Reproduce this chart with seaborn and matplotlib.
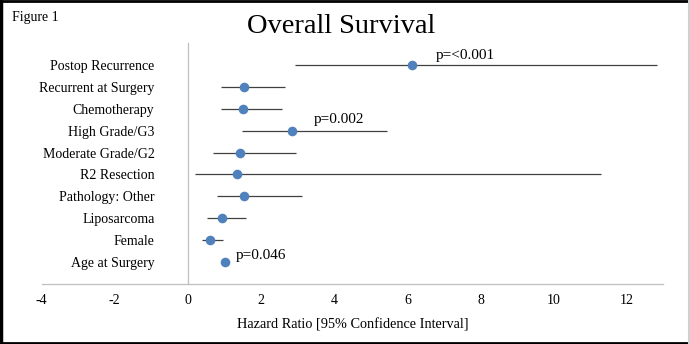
import numpy as np
import pandas as pd
import matplotlib
matplotlib.use("Agg")
import matplotlib.pyplot as plt
import seaborn as sns
from matplotlib.lines import Line2D

# ---- data ----
categories = ["Postop Recurrence", "Recurrent at Surgery", "Chemotherapy",
              "High Grade/G3", "Moderate Grade/G2", "R2 Resection",
              "Pathology: Other", "Liposarcoma", "Female", "Age at Surgery"]
hazard_ratio = [6.14, 1.54, 1.50, 2.84, 1.42, 1.35, 1.54, 0.92, 0.60, 1.01]
ci_low = [2.93, 0.90, 0.90, 1.49, 0.69, 0.19, 0.80, 0.51, 0.38, 1.00]
ci_high = [12.82, 2.65, 2.57, 5.45, 2.95, 11.29, 3.12, 1.59, 0.95, 1.02]
x_ticks = [-4, -2, 0, 2, 4, 6, 8, 10, 12]
p_labels = ["p=<0.001", "p=0.002", "p=0.046"]
p_rows = ["Postop Recurrence", "High Grade/G3", "Age at Surgery"]
p_x = [6.77, 3.45, 1.30]

df = pd.DataFrame({"cat": categories, "hr": hazard_ratio,
                   "lo": ci_low, "hi": ci_high})
df["pos"] = np.arange(len(df))

sns.set_theme(style="white")
plt.rcParams["font.family"] = ["Liberation Serif", "DejaVu Serif"]
plt.rcParams["text.color"] = "black"
plt.rcParams["xtick.color"] = "black"
plt.rcParams["ytick.color"] = "black"
plt.rcParams["axes.labelcolor"] = "black"

fig = plt.figure(figsize=(6.9, 3.44), dpi=100)
ax = fig.add_axes([0.0604, 0.1744, 0.9009, 0.7006])

ax.hlines(df["pos"], df["lo"], df["hi"], color="#404040", linewidth=0.9, zorder=2)
sns.scatterplot(data=df, x="hr", y="pos", ax=ax, s=48, color="#4F81BD",
                edgecolor="#4F81BD", linewidth=0, zorder=3, legend=False)

ax.set_xlim(-4, 13)
ax.set_ylim(10, -1)
ax.set_xticks(x_ticks)
ax.set_xticklabels([str(t) for t in x_ticks])
ax.set_yticks(df["pos"])
ax.set_yticklabels(categories)
ax.tick_params(axis="y", length=0, pad=24, labelsize=10)
ax.tick_params(axis="x", length=0, pad=7, labelsize=10)

for s in ["top", "right"]:
    ax.spines[s].set_visible(False)
ax.spines["left"].set_position(("data", 0))
ax.spines["left"].set_color("#BFBFBF")
ax.spines["left"].set_linewidth(0.9)
ax.spines["bottom"].set_color("#BFBFBF")
ax.spines["bottom"].set_linewidth(0.9)

ax.set_xlabel("Hazard Ratio [95% Confidence Interval]", fontsize=10.3, labelpad=8)
ax.set_ylabel("")

offsets = {"Postop Recurrence": -0.27, "High Grade/G3": -0.36, "Age at Surgery": -0.15}
for lab, row, xv in zip(p_labels, p_rows, p_x):
    r = categories.index(row)
    ax.text(xv, r + offsets[row], lab, fontsize=11, va="baseline", ha="left")

fig.text(0.358, 0.905, "Overall Survival", fontsize=20.5, ha="left", va="baseline")
fig.text(0.017, 0.94, "Figure 1", fontsize=10, ha="left", va="baseline")

# figure border
fig.add_artist(Line2D([0.002, 0.002], [0, 1], transform=fig.transFigure, color="black", lw=2.5))
fig.add_artist(Line2D([0, 1], [0.998, 0.998], transform=fig.transFigure, color="black", lw=2))
fig.add_artist(Line2D([0, 1], [0.003, 0.003], transform=fig.transFigure, color="black", lw=2))
fig.add_artist(Line2D([0.998, 0.998], [0, 1], transform=fig.transFigure, color="#D0D0D0", lw=1.5))

fig.savefig("out.png", dpi=100)
